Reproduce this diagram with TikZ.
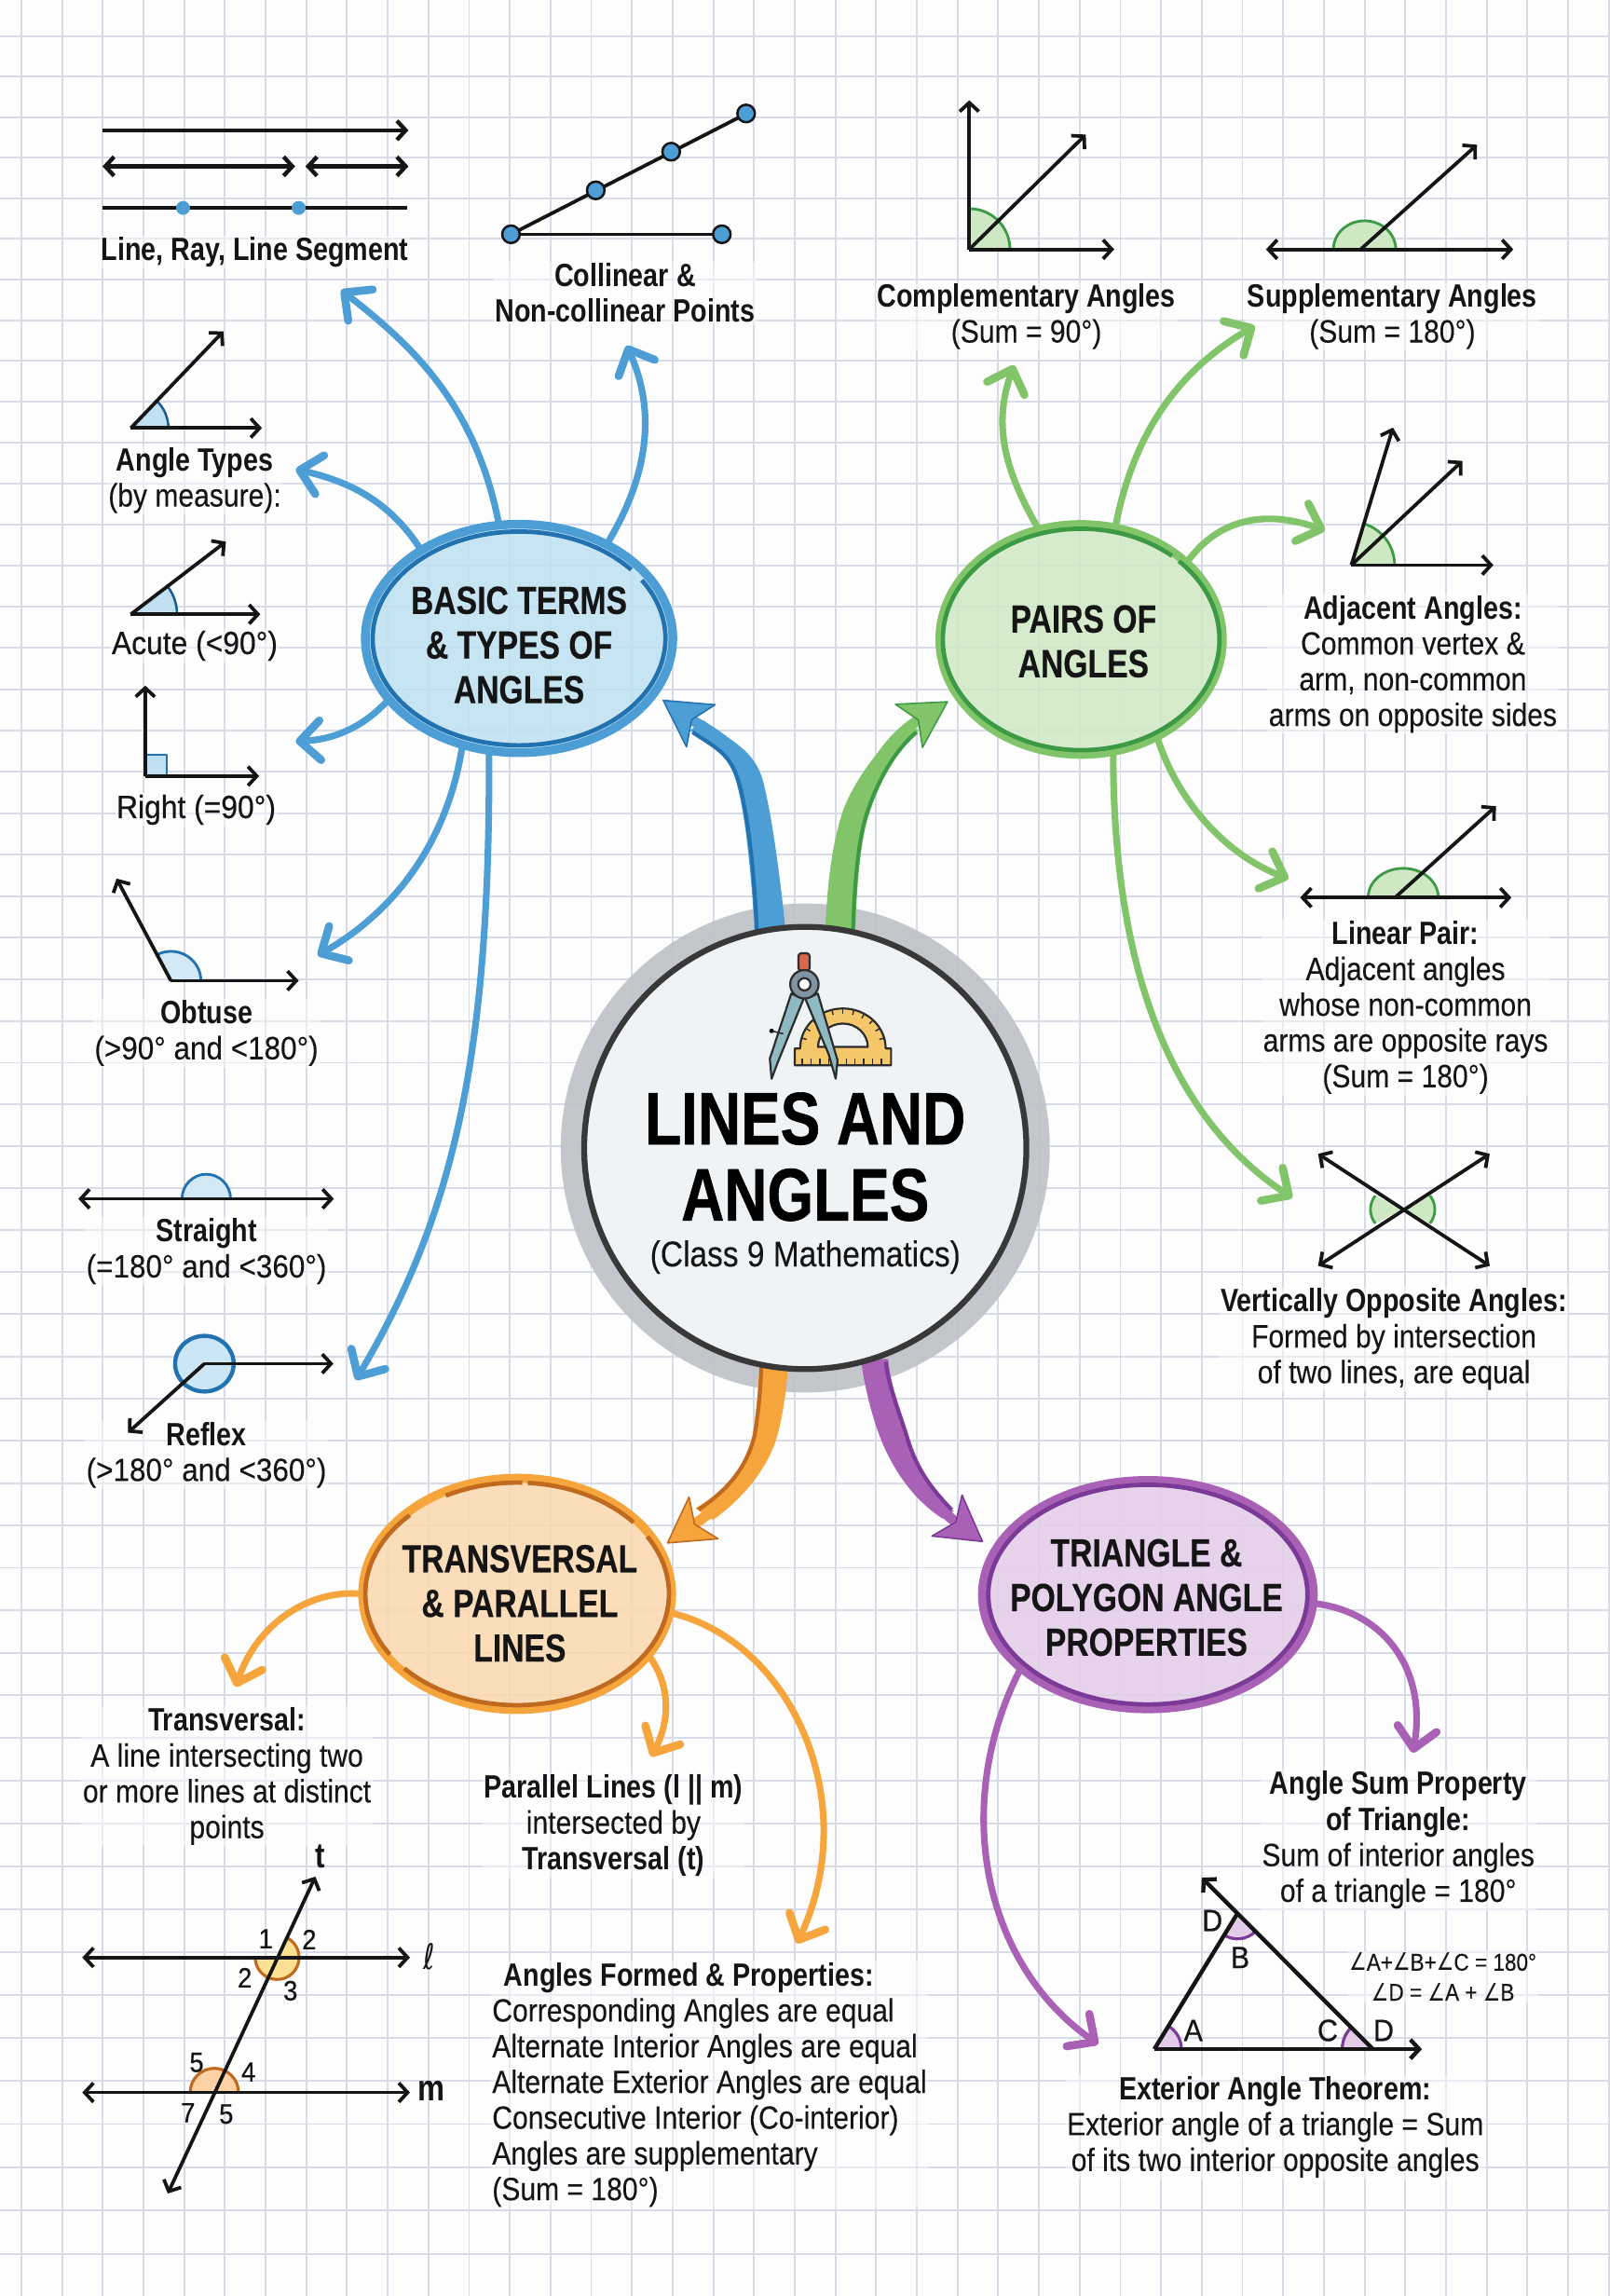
\documentclass[tikz,border=0pt]{standalone}
\usepackage{fontspec}
\setmainfont{Liberation Sans}[UprightFeatures={FakeStretch=0.87,FakeBold=0.15},BoldFeatures={FakeStretch=0.83}]
\newfontfamily\medf[FakeStretch=0.92,FakeBold=0.5]{Liberation Sans}
\newfontfamily\widef[FakeStretch=0.91,FakeBold=0.15]{Liberation Sans}
\newfontfamily\symf[FakeStretch=0.8]{DejaVu Sans}
\newfontfamily\hubf[FakeStretch=0.8,UprightFont={* Bold},FakeBold=0.3]{Liberation Sans}
\newfontfamily\titlef[FakeStretch=0.8,UprightFont={* Bold},FakeBold=0.7]{Liberation Sans}
\usetikzlibrary{arrows.meta,shapes.geometric}
\pgfdeclarelayer{back}\pgfdeclarelayer{textl}\pgfdeclarelayer{conn}
\pgfsetlayers{back,textl,conn,main}
\definecolor{paper}{HTML}{FDFDFE}\definecolor{gridc}{HTML}{D6DBE7}
\definecolor{ink}{HTML}{151515}
\definecolor{bluem}{HTML}{4D9ED4}\definecolor{blued}{HTML}{2272B0}\definecolor{bluef}{HTML}{BEE0F1}
\definecolor{greenm}{HTML}{82C46A}\definecolor{greend}{HTML}{3C9A45}\definecolor{greenf}{HTML}{CFE8C4}
\definecolor{orangem}{HTML}{F5A53C}\definecolor{oranged}{HTML}{BF6A1F}\definecolor{orangef}{HTML}{FBD9AE}
\definecolor{purplem}{HTML}{A861B4}\definecolor{purpled}{HTML}{7B3A97}\definecolor{purplef}{HTML}{E3CCE8}
\definecolor{corec}{HTML}{F4F7FA}\definecolor{ringc}{HTML}{BFC3C8}
\tikzset{
  txt/.style={align=center,inner sep=1pt,fill=white,fill opacity=.45,text opacity=1,text=ink,font=\fontsize{22}{24.4}\selectfont},
  hubt/.style={ellipse,inner sep=0pt,outer sep=0pt,fill opacity=.85,draw opacity=1,line width=6pt},
  hubl/.style={inner sep=0pt,align=center,text=ink,font=\hubf\fontsize{26.8}{30.5}\selectfont},
  branch/.style={line width=4.5pt,-{Straight Barb[length=14pt,width=27pt,round,line width=5.5pt]}},
  rayb/.style={line width=2.4pt,draw=ink,-{Straight Barb[length=6pt,width=13pt]}},
  rayd/.style={line width=2.4pt,draw=ink,{Straight Barb[length=6pt,width=13pt]}-{Straight Barb[length=6pt,width=13pt]}},
  num/.style={inner sep=0pt,text=ink,font=\medf\fontsize{19}{20}\selectfont},
  nub/.style={inner sep=0pt,text=ink,font=\medf\fontsize{21}{22}\selectfont},
  dotm/.style={circle,fill=bluem,inner sep=0pt,minimum size=9.5pt},
  dotc/.style={circle,fill=bluem,draw=ink,line width=1.6pt,inner sep=0pt,minimum size=12pt},
}
\newcommand{\angmark}[7]{% fill, stroke, cx cy, rx, ry, start, end
  \fill[#1] (#3) -- ++(#6:#4 and #5) arc[start angle=#6,end angle=#7,x radius=#4,y radius=#5] -- cycle;
  \draw[#2] (#3) ++(#6:#4 and #5) arc[start angle=#6,end angle=#7,x radius=#4,y radius=#5];}
\newcommand{\ringarc}[7]{% style, cx cy, rx, ry, start, end
  \draw[#1] (#2,#3) ++(#6:#4 and #5) arc[start angle=#6,end angle=#7,x radius=#4,y radius=#5];}
\newcommand{\ang}{{\symf ∠}}
\begin{document}
\begin{tikzpicture}[x=1pt,y=-1pt,line join=round]
\useasboundingbox (0,0) rectangle (1099.6,1568);
\begin{pgfonlayer}{back}
\fill[paper] (0,0) rectangle (1099.6,1568);
\foreach \i in {0,...,39}{\pgfmathsetmacro\xx{14.6+27.8*\i}\draw[gridc,line width=1.2pt] (\xx,0) -- (\xx,1568);}
\foreach \k in {0,...,55}{\pgfmathsetmacro\yy{24.8+27.56*\k+0.0191*\k*\k}\draw[gridc,line width=1.2pt] (0,\yy) -- (1099.6,\yy);}
\fill[ringc,fill opacity=.92] (550,784) circle (167);
\end{pgfonlayer}

% ---------- central node ----------
\node[circle,draw=ink!85,line width=4pt,fill=corec,fill opacity=.93,draw opacity=1,minimum size=302pt,inner sep=0pt,outer sep=0pt] (hubc) at (550,784) {};
\node[inner sep=0pt,align=center,text=black,font=\titlef\fontsize{50.8}{52}\selectfont] (title) at (550,790) {LINES AND\\ANGLES};
\node[inner sep=0pt,text=ink,font=\fontsize{24.5}{26}\selectfont] (subtitle) at (550,858.5) {(Class 9 Mathematics)};

% ---------- hubs ----------
\node[hubt,draw=bluem,fill=bluef,minimum width=210pt,minimum height=156pt] (basic) at (354.5,436) {};
\node[hubt,draw=greenm,fill=greenf,minimum width=193pt,minimum height=157pt] (pairs) at (738.4,436.7) {};
\node[hubt,draw=orangem,fill=orangef,minimum width=211pt,minimum height=158pt] (trans) at (353.2,1088.5) {};
\node[hubt,draw=purplem,fill=purplef,minimum width=226pt,minimum height=156pt] (tri) at (784,1089) {};
\ringarc{blued,line width=3pt}{354.5}{436}{100}{73}{-33}{320}
\ringarc{greend,line width=3pt}{738.4}{436.7}{94.5}{75.6}{-45}{311}
\ringarc{oranged,line width=3pt}{353.2}{1088.5}{103.7}{76}{-86}{-40}
\ringarc{oranged,line width=3pt}{353.2}{1088.5}{103.7}{76}{-31}{138}
\ringarc{oranged,line width=3pt}{353.2}{1088.5}{103.7}{76}{147}{225}
\ringarc{oranged,line width=3pt}{353.2}{1088.5}{103.7}{76}{242}{272}
\draw[purpled,line width=3pt] (784,1089) ellipse [x radius=109,y radius=75];
\node[hubl] (basict) at (354.5,440.5) {BASIC TERMS\\\& TYPES OF\\ANGLES};
\node[hubl] (pairst) at (740,438) {PAIRS OF\\ANGLES};
\node[hubl] (transt) at (355,1095) {TRANSVERSAL\\\& PARALLEL\\LINES};
\node[hubl] (trit) at (783,1091) {TRIANGLE \&\\POLYGON ANGLE\\PROPERTIES};

% ---------- arrow ends ----------
\coordinate (tipmb) at (452.6,478);
\coordinate (tipmg) at (647.5,479);
\coordinate (tipmo) at (455.5,1054);
\coordinate (tipmp) at (671.4,1053);
\coordinate (tb1) at (233,198);
\coordinate (tb2) at (428,236);
\coordinate (tb3) at (202,320.5);
\coordinate (tb4) at (202,506.3);
\coordinate (tb5) at (217,652.5);
\coordinate (tb6) at (243,942.4);
\coordinate (tg1) at (692.5,249.4);
\coordinate (tg2) at (857,222.6);
\coordinate (tg3) at (905,362.2);
\coordinate (tg4) at (880,600);
\coordinate (tg5) at (882.6,818);
\coordinate (to1) at (161,1152);
\coordinate (to2) at (444.7,1199.6);
\coordinate (to3) at (544.3,1327.2);
\coordinate (tp1) at (965,1197);
\coordinate (tp2) at (750,1396);

\begin{pgfonlayer}{conn}
% main tapered arrows
\fill[bluem] (515.4,636) .. controls (513,595) and (509,555) .. (502.6,533) .. controls (497,514) and (486,510) .. (471.3,498.8)
  -- (480.7,492) .. controls (497,505) and (515,511) .. (521,533) .. controls (527,555) and (533,600) .. (536.6,636) -- cycle;
\draw[line width=7pt,draw=bluem,-{Stealth[length=33pt,width=37pt,inset=8pt,round,fill=bluem,color=blued,line width=1pt]}] (hubc.99) .. controls (525,595) and (521,560) .. (512,533) .. controls (503,506) and (485,500) .. (tipmb);
\draw[blued,line width=2.6pt] (517,636) .. controls (515,595) and (511,555) .. (504.2,533) .. controls (498.6,514) and (487.6,510) .. (473,500);
\fill[greenm] (563.7,636) .. controls (565,600) and (569,575) .. (575,556) .. controls (581,537) and (599,511) .. (619,494)
  -- (627.6,498.8) .. controls (611,514) and (600,536) .. (593.5,556) .. controls (587,576) and (585,610) .. (584.2,636) -- cycle;
\draw[line width=7pt,draw=greenm,-{Stealth[length=33pt,width=37pt,inset=8pt,round,fill=greenm,color=greend,line width=1pt]}] (hubc.81) .. controls (574,605) and (578,578) .. (584,556) .. controls (591,530) and (606,505) .. (tipmg);
\draw[greend,line width=2.6pt] (626,500) .. controls (609.4,514) and (598.4,536) .. (591.9,556) .. controls (585.4,576) and (583.4,610) .. (582.6,636);
\fill[orangem] (518.7,933) .. controls (518,950) and (516,968) .. (514,980) .. controls (508,1005) and (492,1020) .. (475,1030)
  -- (487,1038) .. controls (505,1025) and (524,1005) .. (531,980) .. controls (535,965) and (537,950) .. (538.2,933) -- cycle;
\draw[line width=7pt,draw=orangem,-{Stealth[length=32pt,width=37pt,inset=8pt,round,fill=orangem,color=oranged,line width=1pt]}] (hubc.261.8) .. controls (527,950) and (526,965) .. (522.5,980) .. controls (515,1008) and (490,1030) .. (tipmo);
\draw[oranged,line width=2.6pt] (520,933) .. controls (519.5,950) and (517.5,968) .. (515.5,980) .. controls (509.5,1005) and (493.5,1020) .. (477,1031);
\fill[purplem] (588,928) .. controls (590,945) and (595,965) .. (600.5,980) .. controls (610,1005) and (625,1025) .. (643.7,1037)
  -- (651.4,1032) .. controls (638,1018) and (627,1003) .. (620.5,980) .. controls (614,960) and (608,945) .. (606.6,928) -- cycle;
\draw[line width=7pt,draw=purplem,-{Stealth[length=32pt,width=37pt,inset=8pt,round,fill=purplem,color=purpled,line width=1pt]}] (hubc.-72) .. controls (600,945) and (605,965) .. (610.5,980) .. controls (618,1005) and (640,1030) .. (tipmp);
\draw[purpled,line width=2.6pt] (650,1031) .. controls (636.5,1017) and (625.5,1003) .. (619,980) .. controls (612.5,960) and (606.5,945) .. (605,930);
% branches
\draw[branch,draw=bluem] (basic.100.3) .. controls (325,275) and (280,235) .. (tb1);
\draw[branch,draw=bluem] (basic.47.6) .. controls (440,330) and (450,285) .. (tb2);
\draw[branch,draw=bluem] (basic.138) .. controls (265,340) and (235,328) .. (tb3);
\draw[branch,draw=bluem] (basic.205.5) .. controls (250,495) and (230,505) .. (tb4);
\draw[branch,draw=bluem] (basic.242.5) .. controls (305,580) and (265,625) .. (tb5);
\draw[branch,draw=bluem] (basic.255) .. controls (335,720) and (310,830) .. (tb6);
\draw[branch,draw=greenm] (pairs.111.4) .. controls (682,315) and (680,285) .. (tg1);
\draw[branch,draw=greenm] (pairs.73) .. controls (775,290) and (810,250) .. (tg2);
\draw[branch,draw=greenm] (pairs.36.9) .. controls (835,350) and (870,350) .. (tg3);
\draw[branch,draw=greenm] (pairs.-52) .. controls (805,550) and (840,585) .. (tg4);
\draw[branch,draw=greenm] (pairs.-74.7) .. controls (760,680) and (810,770) .. (tg5);
\draw[branch,draw=orangem] (trans.180) .. controls (210,1085) and (175,1110) .. (to1);
\draw[branch,draw=orangem] (trans.-25) .. controls (458,1150) and (458,1175) .. (to2);
\draw[branch,draw=orangem] (trans.-7.2) .. controls (540,1120) and (590,1230) .. (to3);
\draw[branch,draw=purplem] (tri.-3.5) .. controls (945,1100) and (975,1140) .. (tp1);
\draw[branch,draw=purplem] (tri.210) .. controls (650,1230) and (670,1340) .. (tp2);
\end{pgfonlayer}

% ---------- icon ----------
\definecolor{protc}{HTML}{F5C76B}\definecolor{legc}{HTML}{8FBAC2}\definecolor{hingec}{HTML}{7F93A3}\definecolor{redc}{HTML}{D9674F}
\begin{scope}[draw=ink!90,line width=1.4pt]
\draw[fill=protc,even odd rule] (542.8,727.5) -- (608.6,727.5) -- (608.6,716) -- (604.9,716) arc[start angle=0,end angle=-180,x radius=29.2,y radius=27.3] -- (542.8,716) -- cycle
 (558.7,715) arc[start angle=-180,end angle=0,x radius=17,y radius=16] -- cycle;
\foreach \a in {-165,-150,...,-15}{\draw[line width=.9pt] (575.7,716) ++(\a:29.2 and 27.3) -- ++(\a:-3.5);}
\foreach \xx in {548,554,...,606}{\draw[line width=.9pt] (\xx,727.5) -- (\xx,723);}
\draw[fill=legc] (540.4,678.6) -- (548.9,682) -- (531,726) -- (527,736.7) -- (525.8,723) -- cycle;
\draw[fill=legc] (558.6,678.6) -- (550,682) -- (566,720) -- (570.8,736.7) -- (572,724) -- cycle;
\draw[fill=redc,rounded corners=2pt] (545.3,663) -- (545.3,651) -- (553,651) -- (553,663) -- cycle;
\draw[fill=hingec] (549.4,672.2) circle (9.7);
\draw[fill=white] (549.4,672.2) circle (4.2);
\draw[line width=1pt] (527,704) -- (535,706);
\fill[ink] (527,704) circle (1.6);
\end{scope}

% ---------- text nodes ----------
\begin{pgfonlayer}{textl}
\node[txt] (tline) at (174,172) {\bfseries Line, Ray, Line Segment};
\node[txt] (tcoll) at (427,200) {\bfseries Collinear \&\\\bfseries Non-collinear Points};
\node[txt] (tangt) at (133,328) {{\bfseries Angle Types}\\(by measure):};
\node[txt,font=\medf\fontsize{22}{24}\selectfont] (tacute) at (133,441) {Acute (<90°)};
\node[txt,font=\medf\fontsize{22}{24}\selectfont] (tright) at (134,553) {Right (=90°)};
\node[txt] (tobt) at (141,705.5) {{\bfseries Obtuse}\\{\widef(>90° and <180°)}};
\node[txt] (tstr) at (141,854.5) {{\bfseries Straight}\\{\widef(=180° and <360°)}};
\node[txt] (tref) at (141,993.5) {{\bfseries Reflex}\\{\widef(>180° and <360°)}};
\node[txt] (tcomp) at (701,216) {{\bfseries Complementary Angles}\\(Sum = 90°)};
\node[txt] (tsupp) at (951,216) {{\bfseries Supplementary Angles}\\(Sum = 180°)};
\node[txt] (tadj) at (965,453.5) {{\bfseries Adjacent Angles:}\\Common vertex \&\\arm, non-common\\arms on opposite sides};
\node[txt] (tlin) at (960,688) {{\bfseries Linear Pair:}\\Adjacent angles\\whose non-common\\arms are opposite rays\\(Sum = 180°)};
\node[txt] (tvert) at (952,914.5) {{\bfseries Vertically Opposite Angles:}\\Formed by intersection\\of two lines, are equal};
\node[txt] (ttrans) at (155,1213) {{\bfseries Transversal:}\\A line intersecting two\\or more lines at distinct\\points};
\node[txt] (tpar) at (419,1246.5) {{\bfseries Parallel Lines (l || m)}\\intersected by\\{\bfseries Transversal (t)}};
\node[txt,align=left,anchor=north west] (tprop) at (335,1339) {\hspace*{8pt}{\bfseries Angles Formed \& Properties:}\\Corresponding Angles are equal\\Alternate Interior Angles are equal\\Alternate Exterior Angles are equal\\Consecutive Interior (Co-interior)\\Angles are supplementary\\(Sum = 180°)};
\node[txt] (tsum) at (955,1256.5) {{\bfseries Angle Sum Property}\\{\bfseries of Triangle:}\\Sum of interior angles\\of a triangle = 180°};
\node[txt,font=\fontsize{16.5}{20.5}\selectfont] (tform) at (985.5,1350) {\ang A+\ang B+\ang C = 180°\\\ang D = \ang A + \ang B};
\node[txt] (text) at (871,1452.5) {{\bfseries Exterior Angle Theorem:}\\Exterior angle of a triangle = Sum\\of its two interior opposite angles};
\end{pgfonlayer}

% ---------- figures: line, ray, segment ----------
\draw[rayb,line width=2.8pt] (70,89) -- (279,89);
\draw[rayd,line width=2.8pt] (70,113.6) -- (201.6,113.6);
\draw[rayd,line width=2.8pt] (208.6,113.6) -- (279,113.6);
\draw[ink,line width=2.8pt] (70,142) -- (278,142);
\node[dotm] (d1) at (125,142) {};
\node[dotm] (d2) at (204,142) {};
% collinear
\draw[ink,line width=2.4pt] (349,160) -- (510,77.5);
\draw[ink,line width=2.4pt] (349,160) -- (493,160);
\node[dotc] (c1) at (349,160) {};
\node[dotc] (c2) at (493,160) {};
\node[dotc] (c3) at (406.9,130) {};
\node[dotc] (c4) at (458.4,103.6) {};
\node[dotc] (c5) at (509.6,77.5) {};
% angle types
\angmark{bluef}{blued!80!black,line width=1.6pt}{89.4,292.3}{25.6}{25.6}{0}{-47}
\draw[rayb] (89.4,292.3) -- (178.9,292.3);
\draw[rayb] (89.4,292.3) -- (152.6,226.3);
\angmark{bluef}{blued!80!black,line width=1.6pt}{89.4,419.5}{31.5}{31.5}{0}{-37}
\draw[rayb] (89.4,419.5) -- (177.8,419.5);
\draw[rayb] (89.4,419.5) -- (154.3,369.9);
% right
\draw[blued,fill=bluef,line width=1.4pt] (99.2,530) rectangle (114,515.4);
\draw[rayb] (99.2,530) -- (177,530);
\draw[rayb] (99.2,530) -- (99.2,468.2);
% obtuse
\angmark{bluef!70!white}{blued,line width=1.8pt}{116.7,669.7}{20.5}{20}{0}{-118}
\draw[rayb] (116.7,669.7) -- (204,669.7);
\draw[rayb] (116.7,669.7) -- (79.6,600);
% straight
\angmark{bluef!70!white}{blued,line width=1.8pt}{140.9,818.7}{16.6}{16.8}{0}{-180}
\draw[rayd] (53.5,818.7) -- (228,818.7);
% reflex
\draw[blued,fill=bluef!80!white,line width=2.8pt] (139.6,931.3) ellipse [x radius=20,y radius=19];
\draw[rayb] (139.6,931.3) -- (227.7,931.3);
\draw[rayb] (139.6,931.3) -- (87.4,978.4);
% complementary
\angmark{greenf}{greend,line width=1.8pt}{662,170.3}{27.8}{27.8}{0}{-90}
\draw[rayb] (662,170.3) -- (761,170.3);
\draw[rayb] (662,170.3) -- (662,68.5);
\draw[rayb] (662,170.3) -- (741.6,91.9);
% supplementary
\angmark{greenf}{greend,line width=1.8pt}{932,170.3}{21.3}{19.5}{0}{-180}
\draw[rayd] (864.7,170.3) -- (1033.6,170.3);
\draw[rayb] (929.3,170.3) -- (1008.8,98.9);
% adjacent
\angmark{greenf}{greend,line width=1.8pt}{923,385.9}{29.5}{29.5}{0}{-73}
\draw[rayb] (923,385.9) -- (1020,385.9);
\draw[rayb] (923,385.9) -- (951.4,292);
\draw[rayb] (923,385.9) -- (998.8,314.8);
% linear pair
\angmark{greenf}{greend,line width=1.8pt}{958.4,613}{24}{20}{0}{-180}
\draw[rayd] (888,613) -- (1032.3,613);
\draw[rayb] (952.8,613) -- (1021.7,550.6);
% vertically opposite
\angmark{greenf}{greend,line width=1.8pt}{958,826}{22}{18}{148}{212}
\angmark{greenf}{greend,line width=1.8pt}{958,826}{22}{18}{-32}{32}
\draw[rayd] (900.3,788) -- (1017.5,864.5);
\draw[rayd] (900.3,864.5) -- (1017.5,788);
% transversal figure
\angmark{yellow!45!orange!40!white}{oranged,line width=2pt}{189.3,1336.8}{15}{15}{-65}{180}
\angmark{orange!35!white}{oranged,line width=2pt}{146.4,1429}{16.5}{16.5}{0}{-180}
\draw[rayd] (56.2,1336.8) -- (280,1336.8);
\draw[rayd] (56.2,1429) -- (280,1429);
\draw[rayd] (114.6,1498) -- (215.4,1281.6);
\node[num] (n1) at (181.5,1324) {1};
\node[num] (n2) at (211.2,1324.5) {2};
\node[num] (n3) at (167.2,1350.6) {2};
\node[num] (n4) at (198.4,1359.5) {3};
\node[num] (n5) at (134.3,1408.5) {5};
\node[num] (n6) at (169.7,1415) {4};
\node[num] (n7) at (128.4,1442.9) {7};
\node[num] (n8) at (154.5,1443.8) {5};
\node[inner sep=0pt,text=ink,font=\bfseries\fontsize{24}{24}\selectfont] (lt) at (218.5,1268) {t};
\node[inner sep=0pt,text=ink,font=\symf\fontsize{24}{24}\selectfont] (ll) at (293,1336) {ℓ};
\node[inner sep=0pt,text=ink,font=\bfseries\fontsize{25}{24}\selectfont] (lm) at (294.5,1428) {m};
% triangle figure
\angmark{purplef}{purpled,line width=2pt}{788.4,1399.4}{18.5}{18.5}{0}{-58}
\angmark{purplef}{purpled,line width=2pt}{937.7,1399.4}{21}{21}{-180}{-132}
\angmark{purplef}{purpled,line width=2pt}{845.2,1306.7}{17.4}{17.4}{45}{122}
\draw[ink,line width=2.8pt] (788.4,1399.4) -- (845.2,1306.7);
\draw[rayb,line width=2.8pt] (788.4,1399.4) -- (971.2,1399.4);
\draw[rayb,line width=2.8pt] (937.7,1399.4) -- (820.8,1282.3);
\node[nub] (la) at (815,1386.6) {A};
\node[nub] (lc) at (906.8,1386.6) {C};
\node[nub] (ld1) at (945,1386.6) {D};
\node[nub] (ld2) at (828,1311.6) {D};
\node[nub] (lb) at (847,1336.8) {B};
\end{tikzpicture}
\end{document}
